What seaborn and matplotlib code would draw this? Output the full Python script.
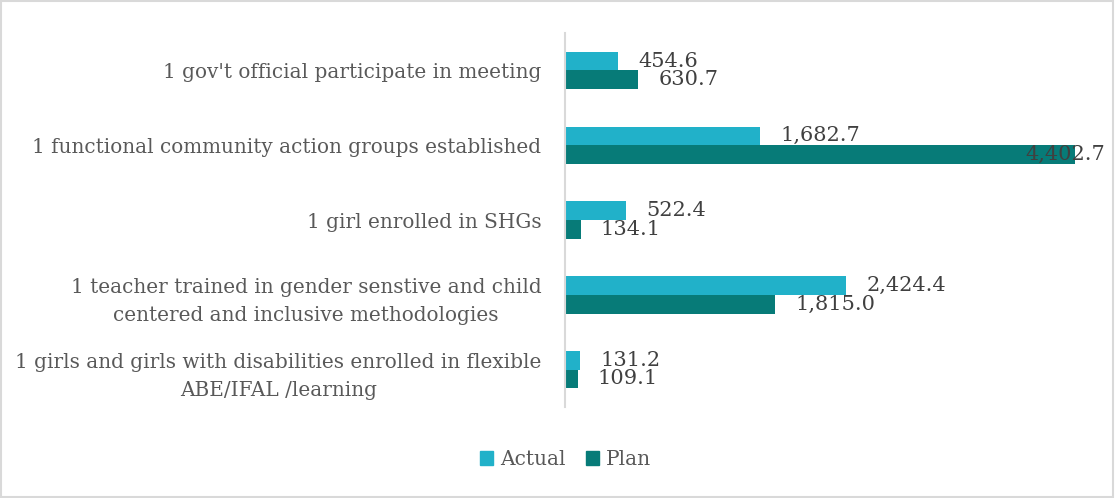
import pandas as pd
import seaborn as sns
import matplotlib.pyplot as plt
from matplotlib.patches import Rectangle

categories = [
    "1 gov't official participate in meeting",
    "1 functional community action groups established",
    "1 girl enrolled in SHGs",
    "1 teacher trained in gender senstive and child\ncentered and inclusive methodologies",
    "1 girls and girls with disabilities enrolled in flexible\nABE/IFAL /learning",
]
actual = [454.6, 1682.7, 522.4, 2424.4, 131.2]
plan = [630.7, 4402.7, 134.1, 1815.0, 109.1]
series = ["Actual", "Plan"]
colors = ["#21B1C9", "#077B78"]


def myplot():
    sns.set_style("white")
    plt.rcParams['font.family'] = ['DejaVu Serif']

    df = pd.DataFrame({
        'category': categories * 2,
        'value': actual + plan,
        'series': ['Actual'] * len(actual) + ['Plan'] * len(plan),
    })

    fig = plt.figure(figsize=(11.15, 4.98), dpi=100)
    ax = fig.add_axes([0.5067, 0.1827, 0.4825, 0.751])
    sns.barplot(data=df, y='category', x='value', hue='series', orient='h',
                palette=colors, hue_order=series, width=0.5, linewidth=0,
                saturation=1, ax=ax, legend=False)

    xmax = 4640
    ax.set_xlim(0, xmax)
    ax.set_ylim(4.5, -0.5)

    # data labels, pushed inside when they would run past the plot edge
    for cont in ax.containers:
        for bar in cont:
            w = bar.get_width()
            yc = bar.get_y() + bar.get_height() / 2
            txt = '{:,.1f}'.format(w)
            if w + 900 > xmax:
                ax.text(xmax + 20, yc, txt, ha='right', va='center',
                        fontsize=15, color='#404040', clip_on=False)
            else:
                ax.text(w + 175, yc, txt, ha='left', va='center',
                        fontsize=15, color='#404040')

    ax.set_xlabel('')
    ax.set_ylabel('')
    ax.set_xticks([])
    ax.tick_params(axis='y', length=0, pad=17, labelsize=14.4, labelcolor='#595959')
    for lab in ax.get_yticklabels():
        lab.set_multialignment('center')
        lab.set_linespacing(1.6)
    for s in ['top', 'right', 'bottom']:
        ax.spines[s].set_visible(False)
    ax.spines['left'].set_color('#d9d9d9')
    ax.spines['left'].set_linewidth(1.5)

    handles = [Rectangle((0, 0), 1, 1, color=c) for c in colors]
    fig.legend(handles, series, loc='center', bbox_to_anchor=(0.507, 0.077),
               ncol=2, frameon=False, fontsize=14.5, labelcolor='#595959',
               handlelength=0.65, handleheight=0.65, handletextpad=0.35,
               columnspacing=1.0)

    fig.patches.append(Rectangle((0.001, 0.002), 0.997, 0.995, transform=fig.transFigure,
                                 fill=False, edgecolor='#d9d9d9', linewidth=1.5))

    plt.savefig('out.png', dpi=100)


myplot()
